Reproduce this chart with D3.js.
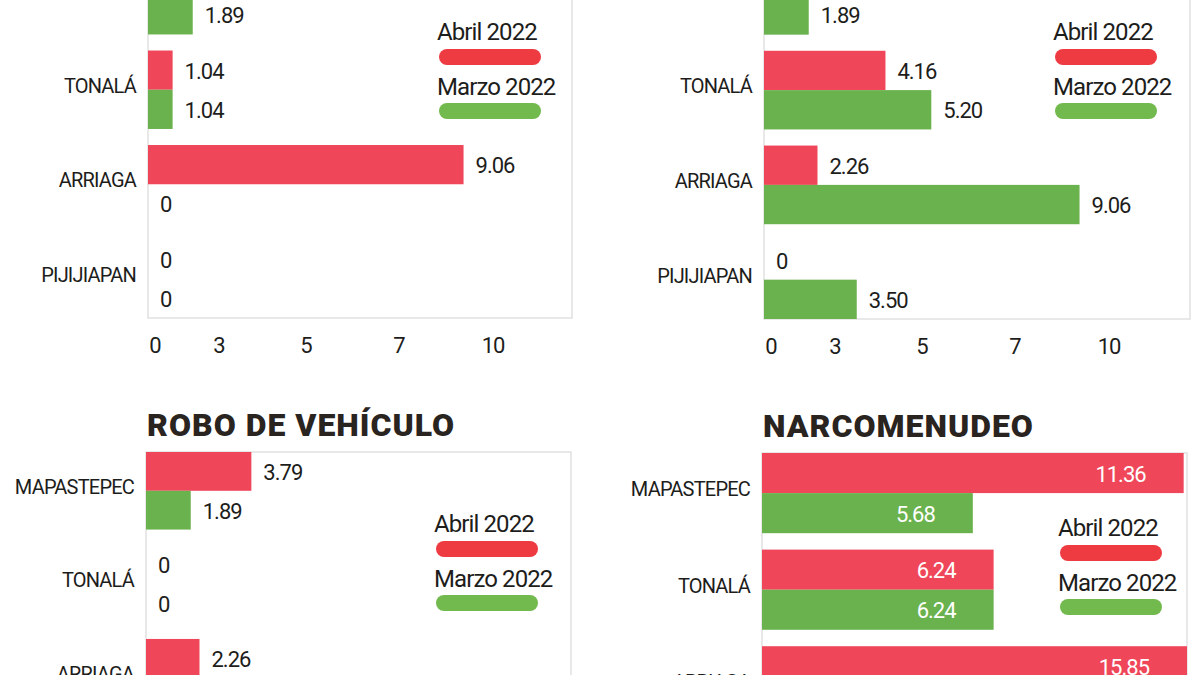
<!DOCTYPE html>
<html><head><meta charset="utf-8">
<script src="https://cdn.jsdelivr.net/npm/d3@7/dist/d3.min.js"></script>
<style>
html,body{margin:0;padding:0;background:#fff;}
svg{display:block;}
</style></head>
<body>
<svg id="chart" width="1200" height="675"></svg>
<script>
// ---- data (values that are cut off in the reference are null) ----
const categories = ["MAPASTEPEC", "TONALÁ", "ARRIAGA", "PIJIJIAPAN"];
const seriesNames = ["Abril 2022", "Marzo 2022"];
const tickValues = [0, 3, 5, 7, 10];

const panel1Abril = [null, 1.04, 9.06, 0];
const panel1Marzo = [1.89, 1.04, 0, 0];
const panel2Abril = [null, 4.16, 2.26, 0];
const panel2Marzo = [1.89, 5.20, 9.06, 3.50];
const roboAbril = [3.79, 0, 2.26, null];
const roboMarzo = [1.89, 0, null, null];
const narcoAbril = [11.36, 6.24, 15.85, null];
const narcoMarzo = [5.68, 6.24, null, null];

// ---- styles ----
const RED = "#ef4659", GREEN = "#6ab24d";
const LEG_RED = "#ee3b42", LEG_GREEN = "#72b94e";
const FONT = "Roboto, 'Noto Sans', sans-serif";
const TEXT = "#1d1d1b";

const svg = d3.select("#chart");

const panels = [
  {x0: 148, w: 424, top: -44, h: 362, abril: panel1Abril, marzo: panel1Marzo, title: null, axis: true, inside: false, lx: 289, ly: 76},
  {x0: 764, w: 426, top: -44, h: 363, abril: panel2Abril, marzo: panel2Marzo, title: null, axis: true, inside: false, lx: 289, ly: 76},
  {x0: 146, w: 425, top: 452, h: 358, abril: roboAbril, marzo: roboMarzo, title: "ROBO DE VEHÍCULO", axis: false, inside: false, lx: 288, ly: 72},
  {x0: 762, w: 425, top: 453, h: 370, abril: narcoAbril, marzo: narcoMarzo, title: "NARCOMENUDEO", axis: false, inside: true, lx: 296, ly: 75}
];

panels.forEach(p => {
  const g = svg.append("g");
  let x;
  if (p.inside) {
    x = d3.scaleLinear().domain([0, 11.45]).range([p.x0, p.x0 + p.w]).clamp(true);
  } else {
    const offs = [0, 71, 158, 251, 345];
    x = d3.scaleLinear().domain(tickValues).range(offs.map(o => p.x0 + o)).clamp(true);
  }
  const y = d3.scaleBand().domain(categories).range([p.top, p.top + p.h]).paddingInner(0.17).paddingOuter(0);
  const sub = d3.scaleBand().domain(seriesNames).range([0, y.bandwidth()]);

  // frame
  g.append("rect").attr("x", p.x0).attr("y", p.top).attr("width", p.w).attr("height", p.h)
    .attr("fill", "none").attr("stroke", "#e1e1e1").attr("stroke-width", 1.5);

  // title
  if (p.title) {
    g.append("text").attr("x", p.x0 + 1).attr("y", p.top - 16)
      .attr("font-family", FONT).attr("font-weight", 900).attr("font-size", 32)
      .attr("letter-spacing", 1.0).attr("fill", "#2a2420").text(p.title);
  }

  // category labels
  g.selectAll(".cat").data(categories).join("text")
    .attr("x", p.x0 - 12).attr("y", d => y(d) + y.bandwidth() / 2 - 4)
    .attr("text-anchor", "end").attr("dominant-baseline", "central")
    .attr("font-family", FONT).attr("font-size", 20).attr("letter-spacing", -0.8)
    .attr("fill", TEXT).text(d => d);

  // bars
  const rows = [];
  categories.forEach((c, i) => {
    rows.push({cat: c, s: seriesNames[0], v: p.abril[i], color: RED});
    rows.push({cat: c, s: seriesNames[1], v: p.marzo[i], color: GREEN});
  });
  const valid = rows.filter(r => r.v !== null);
  g.selectAll(".bar").data(valid).join("rect")
    .attr("x", p.x0).attr("y", d => y(d.cat) + sub(d.s))
    .attr("width", d => x(d.v) - x(0)).attr("height", sub.bandwidth())
    .attr("fill", d => d.color);

  g.selectAll(".val").data(valid).join("text")
    .attr("x", d => p.inside ? x(d.v) - 38 : x(d.v) + 12)
    .attr("y", d => y(d.cat) + sub(d.s) + sub.bandwidth() / 2 + 1)
    .attr("text-anchor", p.inside ? "end" : "start").attr("dominant-baseline", "central")
    .attr("font-family", FONT).attr("font-size", 22).attr("letter-spacing", -1)
    .attr("fill", p.inside ? "#fff" : TEXT)
    .text(d => d.v === 0 ? "0" : d3.format(".2f")(d.v));

  // axis tick labels
  if (p.axis) {
    g.selectAll(".tick").data(tickValues).join("text")
      .attr("x", d => x(d) + (d === 0 ? 7 : 0)).attr("y", p.top + p.h + 27)
      .attr("text-anchor", "middle").attr("dominant-baseline", "central")
      .attr("font-family", FONT).attr("font-size", 22).attr("letter-spacing", -1)
      .attr("fill", TEXT).text(d => d);
  }

  // legend
  const lx = p.x0 + p.lx;
  const leg = [{name: seriesNames[0], c: LEG_RED, ty: 0, py: 25}, {name: seriesNames[1], c: LEG_GREEN, ty: 55, py: 79}];
  leg.forEach(l => {
    g.append("text").attr("x", lx).attr("y", p.top + p.ly + l.ty)
      .attr("dominant-baseline", "central")
      .attr("font-family", FONT).attr("font-size", 24).attr("letter-spacing", -0.9)
      .attr("fill", TEXT).text(l.name);
    g.append("rect").attr("x", lx + 2).attr("y", p.top + p.ly + l.py - 8)
      .attr("width", 102).attr("height", 16).attr("rx", 8).attr("fill", l.c);
  });
});
</script>
</body></html>
